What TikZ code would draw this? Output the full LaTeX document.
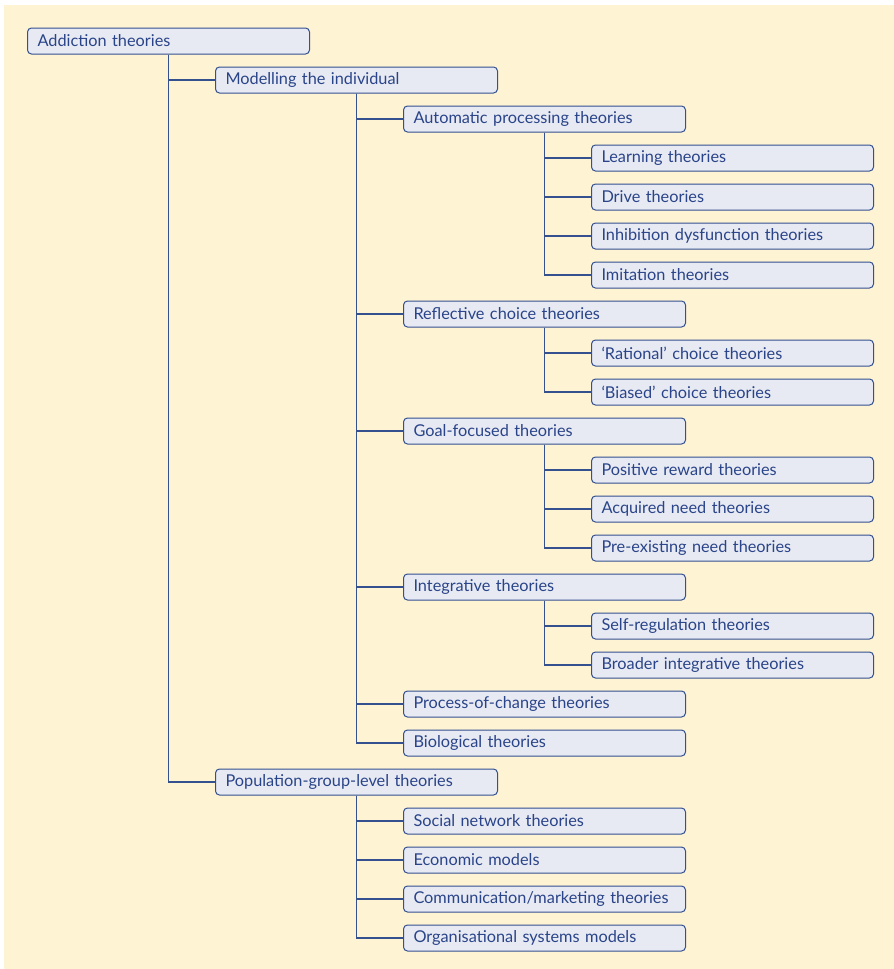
\documentclass[tikz,border=0pt]{standalone}
\usepackage{fontspec}
\setmainfont{Lato}
\definecolor{bgc}{HTML}{FEF3D3}
\definecolor{boxfill}{HTML}{E7EAF3}
\definecolor{boxline}{HTML}{34508F}
\definecolor{txtc}{HTML}{2A4489}
\begin{document}
\begin{tikzpicture}[x=1pt,y=-1pt,
  tbox/.style={draw=boxline,fill=boxfill,line width=1pt,rounded corners=4pt,
    anchor=west,minimum width=282pt,minimum height=26pt,text width=262pt,
    inner xsep=10pt,inner ysep=0pt,align=left,text=txtc,
    font=\fontsize{16.3}{18}\selectfont},
  conn/.style={draw=boxline,line width=1.1pt}]
\useasboundingbox (0,0) rectangle (894,969);
\fill[bgc] (4,5) rectangle (894,969);
% level x positions
\def\La{27}\def\Lb{215}\def\Lc{403}\def\Ld{591}
\node[tbox] (a0) at (\La,41) {Addiction theories};
\node[tbox] (b1) at (\Lb,80) {Modelling the individual};
\node[tbox] (c1) at (\Lc,119) {Automatic processing theories};
\node[tbox] (d1) at (\Ld,158) {Learning theories};
\node[tbox] (d2) at (\Ld,197) {Drive theories};
\node[tbox] (d3) at (\Ld,236) {Inhibition dysfunction theories};
\node[tbox] (d4) at (\Ld,275) {Imitation theories};
\node[tbox] (c2) at (\Lc,314) {Reflective choice theories};
\node[tbox] (d5) at (\Ld,353) {‘Rational’ choice theories};
\node[tbox] (d6) at (\Ld,392) {‘Biased’ choice theories};
\node[tbox] (c3) at (\Lc,431) {Goal-focused theories};
\node[tbox] (d7) at (\Ld,470) {Positive reward theories};
\node[tbox] (d8) at (\Ld,509) {Acquired need theories};
\node[tbox] (d9) at (\Ld,548) {Pre-existing need theories};
\node[tbox] (c4) at (\Lc,587) {Integrative theories};
\node[tbox] (d10) at (\Ld,626) {Self-regulation theories};
\node[tbox] (d11) at (\Ld,665) {Broader integrative theories};
\node[tbox] (c5) at (\Lc,704) {Process-of-change theories};
\node[tbox] (c6) at (\Lc,743) {Biological theories};
\node[tbox] (b2) at (\Lb,782) {Population-group-level theories};
\node[tbox] (c7) at (\Lc,821) {Social network theories};
\node[tbox] (c8) at (\Lc,860) {Economic models};
\node[tbox] (c9) at (\Lc,899) {Communication/marketing theories};
\node[tbox] (c10) at (\Lc,938) {Organisational systems models};
% connectors
\foreach \c in {b1,b2} \draw[conn] (a0.south) |- (\c.west);
\foreach \c in {c1,c2,c3,c4,c5,c6} \draw[conn] (b1.south) |- (\c.west);
\foreach \c in {c7,c8,c9,c10} \draw[conn] (b2.south) |- (\c.west);
\foreach \c in {d1,d2,d3,d4} \draw[conn] (c1.south) |- (\c.west);
\foreach \c in {d5,d6} \draw[conn] (c2.south) |- (\c.west);
\foreach \c in {d7,d8,d9} \draw[conn] (c3.south) |- (\c.west);
\foreach \c in {d10,d11} \draw[conn] (c4.south) |- (\c.west);
\end{tikzpicture}
\end{document}
